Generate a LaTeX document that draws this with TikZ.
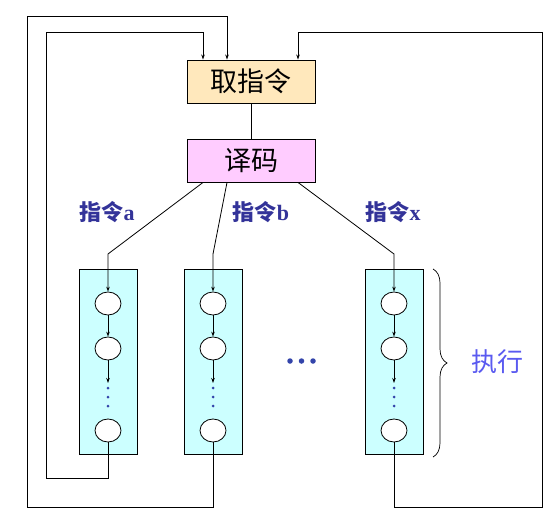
\documentclass[tikz,border=0pt]{standalone}
\usepackage{fontspec}
\setmainfont{Liberation Serif}
\newfontfamily\cjk{Noto Sans CJK SC}
\usetikzlibrary{arrows.meta,decorations.pathreplacing,shapes.geometric}
\definecolor{fetchfill}{RGB}{255,232,188}
\definecolor{decfill}{RGB}{255,204,255}
\definecolor{colfill}{RGB}{204,255,255}
\definecolor{labblue}{RGB}{51,51,153}
\definecolor{dotblue}{RGB}{51,68,170}
\definecolor{exeblue}{RGB}{90,90,240}
\begin{document}
\begin{tikzpicture}[x=1pt,y=-1pt,line width=0.8pt,
  box/.style={draw,line width=0.9pt,minimum width=128pt,minimum height=43pt,inner sep=0pt,
    font=\cjk\fontsize{27}{27}\selectfont},
  colbox/.style={draw,fill=colfill,minimum width=58pt,minimum height=185pt,inner sep=0pt},
  st/.style={draw,fill=white,ellipse,minimum width=26pt,minimum height=23pt,inner sep=0pt},
  arr/.style={-{Stealth[length=5pt,width=3.5pt]}},
  lab/.style={text=labblue,font=\fontsize{22}{22}\selectfont\bfseries,inner sep=0pt},
  vdot/.style={circle,fill=dotblue,inner sep=0pt,minimum size=3pt},
  hdot/.style={circle,fill=dotblue,inner sep=0pt,minimum size=5.5pt}]
\useasboundingbox (0,0) rectangle (545,521);

% main boxes
\node[box,fill=fetchfill] (fetch) at (251,81.5) {取指令};
\node[box,fill=decfill] (dec) at (251,160.5) {译码};
\draw (fetch) -- (dec);

% columns
\node[colbox] (ca) at (108,361.5) {};
\node[colbox] (cb) at (213,361.5) {};
\node[colbox] (cx) at (394,361.5) {};

\foreach \c/\x in {a/108,b/213,x/394}{
  \node[st] (\c1) at (\x,303.5) {};
  \node[st] (\c2) at (\x,348.5) {};
  \node[st] (\c3) at (\x,430.5) {};
  \coordinate (\c e) at (\x,383);
  \node[vdot] (\c d1) at (\x,388) {};
  \node[vdot] (\c d2) at (\x,397) {};
  \node[vdot] (\c d3) at (\x,406) {};
  \draw[arr] (\c1) -- (\c2);
  \draw[arr] (\c2) -- (\c e);
}

% decode to columns
\draw[arr] ([xshift=-48pt]dec.south) -- (108,254) -- (a1);
\draw[arr] ([xshift=-24pt]dec.south) -- (213,254) -- (b1);
\draw[arr] ([xshift=47pt]dec.south) -- (394,254) -- (x1);

% loops back to fetch
\draw[arr] (a3) -- (108,478) -- (46,478) -- (46,32) -- (203,32) -- ([xshift=-48pt]fetch.north);
\draw[arr] (b3) -- (213,507) -- (27,507) -- (27,16) -- (227,16) -- ([xshift=-24pt]fetch.north);
\draw[arr] (x3) -- (394,507) -- (542,507) -- (542,32) -- (298,32) -- ([xshift=47pt]fetch.north);

% labels
\node[lab] (la) at (107,212) {{\cjk 指令}a};
\node[lab] (lb) at (261,212) {{\cjk 指令}b};
\node[lab] (lx) at (393,212) {{\cjk 指令}x};

% ellipsis between columns
\node[hdot] (e1) at (290,361) {};
\node[hdot] (e2) at (301.5,361) {};
\node[hdot] (e3) at (313,361) {};

% brace and execute label
\draw[line width=0.7pt,decorate,decoration={brace,amplitude=14pt}] (433,269) -- (433,457);
\node[text=exeblue,font=\cjk\fontsize{26}{26}\selectfont] (exe) at (497,362) {执行};
\end{tikzpicture}
\end{document}
